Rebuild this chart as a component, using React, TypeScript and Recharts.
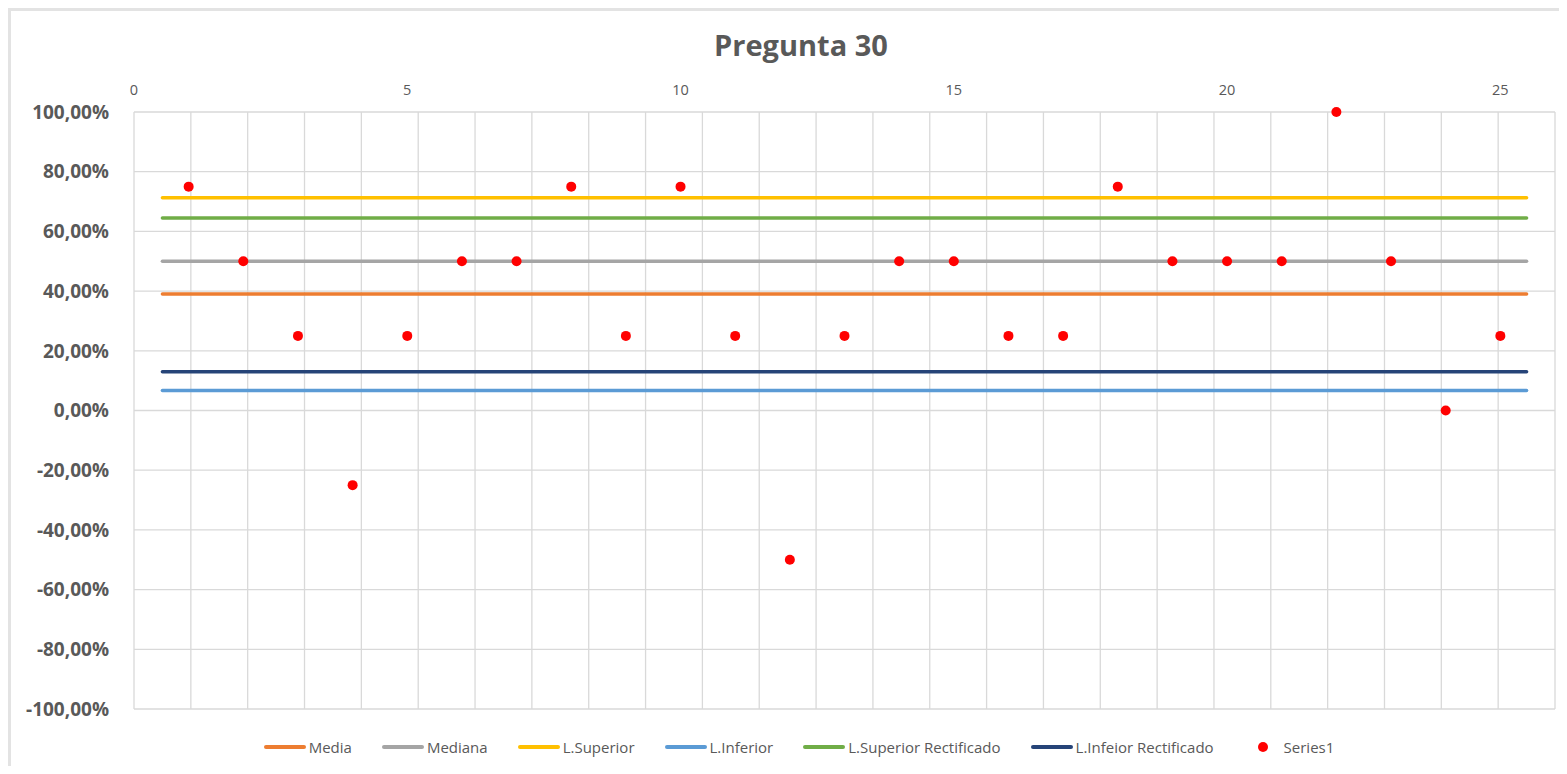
import React from "react";
import {
  ComposedChart,
  Line,
  Scatter,
  XAxis,
  YAxis,
  CartesianGrid,
  Legend,
} from "recharts";

const CATEGORIES = [
  1, 2, 3, 4, 5, 6, 7, 8, 9, 10, 11, 12, 13, 14, 15, 16, 17, 18, 19, 20, 21,
  22, 23, 24, 25,
];

// respuestas por alumno (eje X secundario)
const SERIES1_X = [
  1, 2, 3, 4, 5, 6, 7, 8, 9, 10, 11, 12, 13, 14, 15, 16, 17, 18, 19, 20, 21,
  22, 23, 24, 25,
];
const SERIES1_Y = [
  0.75, 0.5, 0.25, -0.25, 0.25, 0.5, 0.5, 0.75, 0.25, 0.75, 0.25, -0.5, 0.25,
  0.5, 0.5, 0.25, 0.25, 0.75, 0.5, 0.5, 0.5, 1.0, 0.5, 0.0, 0.25,
];

const MEDIA = 0.39;
const MEDIANA = 0.5;
const L_SUPERIOR = 0.713;
const L_INFERIOR = 0.067;
const L_SUP_RECT = 0.645;
const L_INF_RECT = 0.13;

const X_TICKS = [0, 5, 10, 15, 20, 25];
const Y_TICKS = [-1, -0.8, -0.6, -0.4, -0.2, 0, 0.2, 0.4, 0.6, 0.8, 1];

const LINES = [
  { key: "media", name: "Media", color: "#ED7D31" },
  { key: "mediana", name: "Mediana", color: "#A5A5A5" },
  { key: "lsup", name: "L.Superior", color: "#FFC000" },
  { key: "linf", name: "L.Inferior", color: "#5B9BD5" },
  { key: "lsupr", name: "L.Superior Rectificado", color: "#70AD47" },
  { key: "linfr", name: "L.Infeior Rectificado", color: "#264478" },
];

const lineData = CATEGORIES.map((c) => ({
  cat: c,
  media: MEDIA,
  mediana: MEDIANA,
  lsup: L_SUPERIOR,
  linf: L_INFERIOR,
  lsupr: L_SUP_RECT,
  linfr: L_INF_RECT,
}));

const scatterData = SERIES1_X.map((x, i) => ({ x, y: SERIES1_Y[i] }));

const FONT = "'Open Sans', 'Liberation Sans', sans-serif";
const TEXT = "#595959";

const fmtPct = (v: number) =>
  (v * 100).toFixed(2).replace(".", ",") + "%";

// vertical gridlines sit on the category boundaries, like Excel
const categoryBoundaries = ({ offset }: any) =>
  [0, ...CATEGORIES].map(
    (_c, i) => offset.left + (offset.width * i) / CATEGORIES.length
  );

function LegendContent() {
  return (
    <div
      style={{
        display: "flex",
        justifyContent: "center",
        alignItems: "center",
        fontFamily: FONT,
        fontSize: 15,
        color: TEXT,
        gap: 30,
        paddingTop: 28,
        paddingLeft: 22,
      }}
    >
      {LINES.map((l) => (
        <div key={l.key} style={{ display: "flex", alignItems: "center" }}>
          <div
            style={{
              width: 42,
              height: 4,
              borderRadius: 2,
              background: l.color,
              marginRight: 3,
            }}
          />
          <span>{l.name}</span>
        </div>
      ))}
      <div style={{ display: "flex", alignItems: "center", marginLeft: 14 }}>
        <div
          style={{
            width: 10,
            height: 10,
            borderRadius: 5,
            background: "#FF0000",
            marginRight: 16,
          }}
        />
        <span>Series1</span>
      </div>
    </div>
  );
}

export default function App() {
  return (
    <div
      style={{
        position: "relative",
        width: 1556,
        height: 755,
        borderLeft: "3px solid #e3e3e3",
        borderTop: "3px solid #e3e3e3",
        background: "#fff",
      }}
    >
      <div
        style={{
          position: "absolute",
          top: 14,
          left: 0,
          width: 1580,
          textAlign: "center",
          fontFamily: FONT,
          fontWeight: 700,
          fontSize: 29,
          color: TEXT,
        }}
      >
        Pregunta 30
      </div>
      <ComposedChart
        width={1556}
        height={755}
        data={lineData}
        margin={{ top: 71, right: 12, bottom: 10, left: 10 }}
      >
        <CartesianGrid
          stroke="#d9d9d9"
          strokeWidth={1.3}
          horizontalValues={Y_TICKS}
          verticalCoordinatesGenerator={categoryBoundaries}
        />
        <XAxis
          xAxisId="cat"
          dataKey="cat"
          type="category"
          scale="band"
          hide
        />
        <XAxis
          xAxisId="num"
          dataKey="x"
          type="number"
          orientation="top"
          domain={[0, 26]}
          ticks={X_TICKS}
          height={30}
          axisLine={false}
          tickLine={false}
          tickSize={0}
          tickMargin={17}
          tick={{ fill: TEXT, fontSize: 14.5, fontFamily: FONT }}
        />
        <YAxis
          domain={[-1, 1]}
          ticks={Y_TICKS}
          width={113}
          axisLine={false}
          tickLine={false}
          tickSize={0}
          tickMargin={25}
          tickFormatter={fmtPct}
          tick={{ fill: TEXT, fontSize: 19, fontWeight: 700, fontFamily: FONT }}
        />
        {LINES.map((l) => (
          <Line
            key={l.key}
            xAxisId="cat"
            dataKey={l.key}
            name={l.name}
            stroke={l.color}
            strokeWidth={3.5}
            strokeLinecap="round"
            dot={false}
            activeDot={false}
            isAnimationActive={false}
          />
        ))}
        <Scatter
          xAxisId="num"
          data={scatterData}
          dataKey="y"
          name="Series1"
          fill="#FF0000"
          shape={(p: any) => <circle cx={p.cx} cy={p.cy} r={5} fill="#FF0000" />}
          isAnimationActive={false}
        />
        <Legend
          verticalAlign="bottom"
          height={47}
          content={() => <LegendContent />}
        />
      </ComposedChart>
    </div>
  );
}
